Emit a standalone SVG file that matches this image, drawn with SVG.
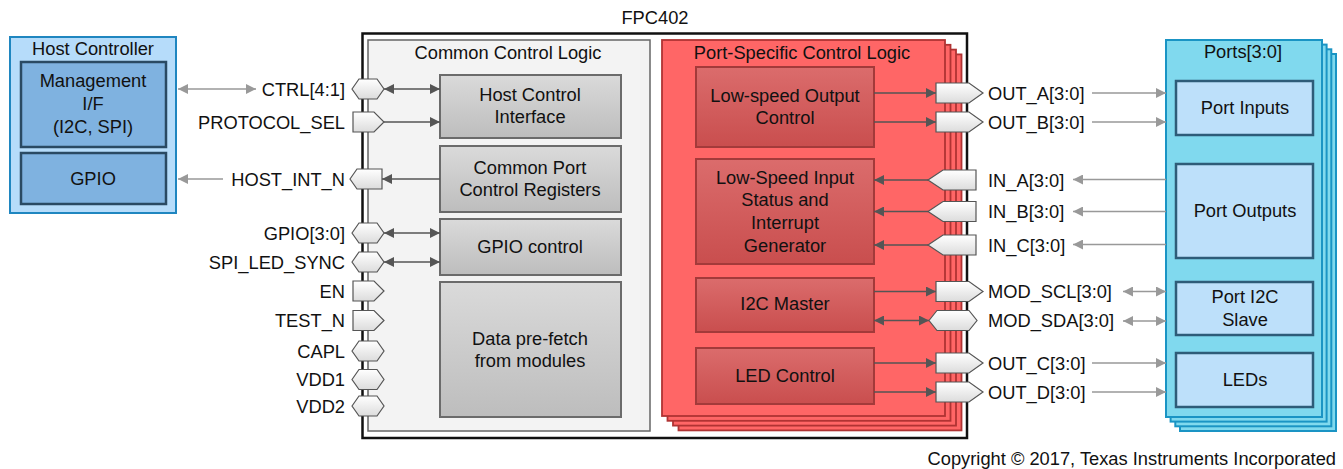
<svg xmlns="http://www.w3.org/2000/svg" width="1343" height="469" viewBox="0 0 1343 469">
<defs>
<linearGradient id="gGray" x1="0" y1="0" x2="0" y2="1"><stop offset="0" stop-color="#dadada"/><stop offset="1" stop-color="#bdbdbd"/></linearGradient>
<linearGradient id="gRed" x1="0" y1="0" x2="0" y2="1"><stop offset="0" stop-color="#db6c6c"/><stop offset="1" stop-color="#c94e4e"/></linearGradient>
<linearGradient id="gPin" x1="0" y1="0" x2="0" y2="1"><stop offset="0" stop-color="#ffffff"/><stop offset="1" stop-color="#dcdcdc"/></linearGradient>
<marker id="ad" viewBox="0 0 10 10" refX="10" refY="5" markerWidth="11" markerHeight="10" markerUnits="userSpaceOnUse" orient="auto-start-reverse"><path d="M0,0 L10,5 L0,10 z" fill="#555"/></marker>
<marker id="ag" viewBox="0 0 10 10" refX="10" refY="5" markerWidth="11" markerHeight="10" markerUnits="userSpaceOnUse" orient="auto-start-reverse"><path d="M0,0 L10,5 L0,10 z" fill="#999"/></marker>
</defs>
<style>
text{font-family:"Liberation Sans",Arial,sans-serif;font-size:18.3px;fill:#111}
.c{text-anchor:middle}
.r{text-anchor:end}
.hostOuter{fill:#b6dcfa;stroke:#1f86c0;stroke-width:2}
.hostIn{fill:#7fb2e0;stroke:#2a4a63;stroke-width:2.5}
.chip{fill:#fff;stroke:#111;stroke-width:2.5}
.ccl{fill:#f3f3f3;stroke:#666;stroke-width:1.5}
.gbox{fill:url(#gGray);stroke:#6b6b6b;stroke-width:2}
.redL{fill:#ff6666;stroke:#b03333;stroke-width:1.8}
.rbox{fill:url(#gRed);stroke:#a33a3a;stroke-width:2}
.portL{fill:#80d9ee;stroke:#1a94c4;stroke-width:2}
.pbox{fill:#bde0fa;stroke:#2e5c78;stroke-width:2.5}
.pin{fill:url(#gPin);stroke:#555;stroke-width:1.2}
.li{stroke:#555;stroke-width:1.5;fill:none}
.le{stroke:#999;stroke-width:1.5;fill:none}
</style>

<g id="host-controller">
<rect class="hostOuter" x="10" y="37" width="166" height="176"/>
<text class="c" x="93" y="55">Host Controller</text>
</g>
<g id="management-if">
<rect class="hostIn" x="21" y="62" width="145" height="85"/>
<text class="c" x="93" y="87">Management</text>
<text class="c" x="93" y="110">I/F</text>
<text class="c" x="93" y="133">(I2C, SPI)</text>
</g>
<g id="host-gpio">
<rect class="hostIn" x="21" y="153" width="145" height="51"/>
<text class="c" x="93" y="185">GPIO</text>
</g>

<g id="fpc402">
<rect class="chip" x="362.5" y="33.5" width="604.5" height="404.5"/>
<text class="c" x="655" y="24">FPC402</text>
</g>

<g id="common-control-logic">
<rect class="ccl" x="368" y="40" width="282" height="391"/>
<text class="c" x="508" y="59">Common Control Logic</text>
</g>
<g id="host-control-interface">
<rect class="gbox" x="440" y="75" width="181" height="63"/>
<text class="c" x="530" y="101">Host Control</text>
<text class="c" x="530" y="123">Interface</text>
</g>
<g id="common-port-control-registers">
<rect class="gbox" x="440" y="146" width="181" height="66"/>
<text class="c" x="530" y="174">Common Port</text>
<text class="c" x="530" y="196">Control Registers</text>
</g>
<g id="gpio-control">
<rect class="gbox" x="440" y="219" width="181" height="56"/>
<text class="c" x="530" y="253">GPIO control</text>
</g>
<g id="data-prefetch">
<rect class="gbox" x="440" y="282" width="181" height="135"/>
<text class="c" x="530" y="345">Data pre-fetch</text>
<text class="c" x="530" y="367">from modules</text>
</g>

<g id="port-specific-control-logic">
<rect class="redL" x="678.5" y="54.4" width="283" height="376"/>
<rect class="redL" x="673" y="49.6" width="283" height="376"/>
<rect class="redL" x="667.5" y="44.8" width="283" height="376"/>
<rect class="redL" x="662" y="40" width="283" height="376"/>
<text class="c" x="802" y="59">Port-Specific Control Logic</text>
</g>
<g id="low-speed-output-control">
<rect class="rbox" x="696" y="67" width="178" height="80"/>
<text class="c" x="785" y="102">Low-speed Output</text>
<text class="c" x="785" y="124">Control</text>
</g>
<g id="low-speed-input-status">
<rect class="rbox" x="696" y="159" width="178" height="105"/>
<text class="c" x="785" y="184">Low-Speed Input</text>
<text class="c" x="785" y="206">Status and</text>
<text class="c" x="785" y="229">Interrupt</text>
<text class="c" x="785" y="251.5">Generator</text>
</g>
<g id="i2c-master">
<rect class="rbox" x="696" y="278" width="178" height="54"/>
<text class="c" x="785" y="309.5">I2C Master</text>
</g>
<g id="led-control">
<rect class="rbox" x="696" y="348" width="178" height="56"/>
<text class="c" x="785" y="382">LED Control</text>
</g>

<g id="ports">
<rect class="portL" x="1180" y="54" width="156" height="377"/>
<rect class="portL" x="1175.3" y="49.3" width="156" height="377"/>
<rect class="portL" x="1170.6" y="44.6" width="156" height="377"/>
<rect class="portL" x="1166" y="40" width="156" height="377"/>
<text class="c" x="1243" y="58">Ports[3:0]</text>
</g>
<g id="port-inputs">
<rect class="pbox" x="1176" y="81" width="137" height="54"/>
<text class="c" x="1245" y="114">Port Inputs</text>
</g>
<g id="port-outputs">
<rect class="pbox" x="1176" y="164" width="137" height="94"/>
<text class="c" x="1245" y="217">Port Outputs</text>
</g>
<g id="port-i2c-slave">
<rect class="pbox" x="1176" y="282" width="137" height="53"/>
<text class="c" x="1245" y="303">Port I2C</text>
<text class="c" x="1245" y="326">Slave</text>
</g>
<g id="leds">
<rect class="pbox" x="1176" y="353" width="137" height="54"/>
<text class="c" x="1245" y="386">LEDs</text>
</g>

<g id="connectors">
<line class="le" x1="178" y1="89" x2="256" y2="89" marker-start="url(#ag)" marker-end="url(#ag)"/>
<line class="le" x1="223" y1="179" x2="178" y2="179" marker-end="url(#ag)"/>
<line class="li" x1="384" y1="89" x2="440" y2="89" marker-start="url(#ad)" marker-end="url(#ad)"/>
<line class="li" x1="384" y1="122" x2="440" y2="122" marker-end="url(#ad)"/>
<line class="li" x1="440" y1="179" x2="382" y2="179" marker-end="url(#ad)"/>
<line class="li" x1="384" y1="233" x2="440" y2="233" marker-start="url(#ad)" marker-end="url(#ad)"/>
<line class="li" x1="384" y1="262" x2="440" y2="262" marker-start="url(#ad)" marker-end="url(#ad)"/>
<line class="li" x1="874" y1="93" x2="936" y2="93" marker-end="url(#ad)"/>
<line class="li" x1="874" y1="122" x2="936" y2="122" marker-end="url(#ad)"/>
<line class="li" x1="928" y1="180" x2="874" y2="180" marker-end="url(#ad)"/>
<line class="li" x1="928" y1="211.5" x2="874" y2="211.5" marker-end="url(#ad)"/>
<line class="li" x1="928" y1="245" x2="874" y2="245" marker-end="url(#ad)"/>
<line class="li" x1="874" y1="291.5" x2="936" y2="291.5" marker-end="url(#ad)"/>
<line class="li" x1="874" y1="320.5" x2="929" y2="320.5" marker-start="url(#ad)" marker-end="url(#ad)"/>
<line class="li" x1="874" y1="363" x2="936" y2="363" marker-end="url(#ad)"/>
<line class="li" x1="874" y1="392" x2="936" y2="392" marker-end="url(#ad)"/>
<line class="le" x1="1092" y1="93" x2="1166" y2="93" marker-end="url(#ag)"/>
<line class="le" x1="1092" y1="122" x2="1166" y2="122" marker-end="url(#ag)"/>
<line class="le" x1="1166" y1="179.5" x2="1073" y2="179.5" marker-end="url(#ag)"/>
<line class="le" x1="1166" y1="211.5" x2="1073" y2="211.5" marker-end="url(#ag)"/>
<line class="le" x1="1166" y1="244.5" x2="1073" y2="244.5" marker-end="url(#ag)"/>
<line class="le" x1="1123" y1="291.5" x2="1166" y2="291.5" marker-start="url(#ag)" marker-end="url(#ag)"/>
<line class="le" x1="1123" y1="321" x2="1166" y2="321" marker-start="url(#ag)" marker-end="url(#ag)"/>
<line class="le" x1="1092" y1="363" x2="1166" y2="363" marker-end="url(#ag)"/>
<line class="le" x1="1092" y1="392" x2="1166" y2="392" marker-end="url(#ag)"/>
</g>

<g id="pins-left">
<polygon class="pin" points="352,89 359,79 377,79 384,89 377,99 359,99"/>
<text class="r" x="345" y="95.5">CTRL[4:1]</text>
<polygon class="pin" points="353,112 374,112 384,122 374,132 353,132"/>
<text class="r" x="345" y="128.5">PROTOCOL_SEL</text>
<polygon class="pin" points="350,179 357,169 382,169 382,189 357,189"/>
<text class="r" x="345" y="185.5">HOST_INT_N</text>
<polygon class="pin" points="352,233 359,223 377,223 384,233 377,243 359,243"/>
<text class="r" x="345" y="239.5">GPIO[3:0]</text>
<polygon class="pin" points="352,262 359,252 377,252 384,262 377,272 359,272"/>
<text class="r" x="345" y="268.5">SPI_LED_SYNC</text>
<polygon class="pin" points="353,281 374,281 384,291 374,301 353,301"/>
<text class="r" x="345" y="297.5">EN</text>
<polygon class="pin" points="353,310.5 374,310.5 384,320.5 374,330.5 353,330.5"/>
<text class="r" x="345" y="327">TEST_N</text>
<polygon class="pin" points="352,351 359,341 377,341 384,351 377,361 359,361"/>
<text class="r" x="345" y="357.5">CAPL</text>
<polygon class="pin" points="352,379.5 359,369.5 377,369.5 384,379.5 377,389.5 359,389.5"/>
<text class="r" x="345" y="386">VDD1</text>
<polygon class="pin" points="352,406 359,396 377,396 384,406 377,416 359,416"/>
<text class="r" x="345" y="412.5">VDD2</text>
</g>

<g id="pins-right">
<polygon class="pin" points="936,83 969,83 983,93 969,103 936,103"/>
<text x="988" y="99.5">OUT_A[3:0]</text>
<polygon class="pin" points="936,112 969,112 983,122 969,132 936,132"/>
<text x="988" y="128.5">OUT_B[3:0]</text>
<polygon class="pin" points="928,180 943,170 976,170 976,190 943,190"/>
<text x="988" y="186.5">IN_A[3:0]</text>
<polygon class="pin" points="928,211.5 943,201.5 976,201.5 976,221.5 943,221.5"/>
<text x="988" y="218">IN_B[3:0]</text>
<polygon class="pin" points="928,245 943,235 976,235 976,255 943,255"/>
<text x="988" y="251.5">IN_C[3:0]</text>
<polygon class="pin" points="936,281.5 969,281.5 983,291.5 969,301.5 936,301.5"/>
<text x="988" y="298">MOD_SCL[3:0]</text>
<polygon class="pin" points="929,320.5 937,310.5 969,310.5 977,320.5 969,330.5 937,330.5"/>
<text x="988" y="327">MOD_SDA[3:0]</text>
<polygon class="pin" points="936,353 969,353 983,363 969,373 936,373"/>
<text x="988" y="369.5">OUT_C[3:0]</text>
<polygon class="pin" points="936,382 969,382 983,392 969,402 936,402"/>
<text x="988" y="398.5">OUT_D[3:0]</text>
</g>

<text class="r" x="1336" y="465">Copyright © 2017, Texas Instruments Incorporated</text>
</svg>
